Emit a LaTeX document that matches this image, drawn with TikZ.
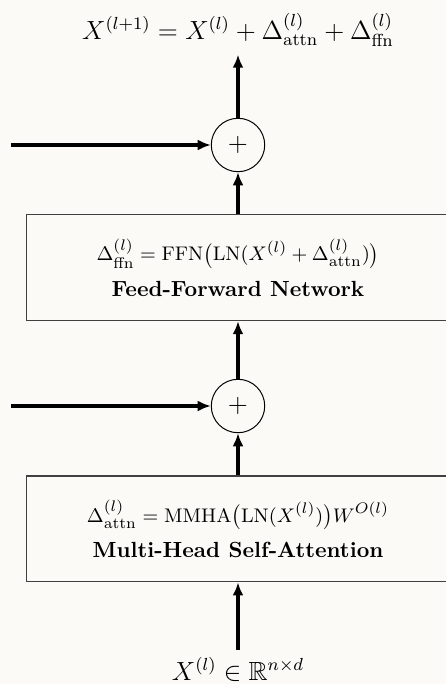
\documentclass[tikz,border=0pt]{standalone}
\usepackage{amsmath,amssymb}
\usetikzlibrary{arrows.meta}
\definecolor{paper}{RGB}{251,250,246}
\newcommand{\eqsize}{\fontsize{9.5}{11.5}\selectfont}
\begin{document}
\begin{tikzpicture}[x=0.4566pt, y=-0.4566pt,
  flow/.style={line width=1.5pt, -{Latex[length=6pt,width=5pt]}},
  layerbox/.style={draw=black!75, line width=0.6pt, minimum width=193pt,
    minimum height=48.3pt, align=center, inner sep=0pt},
  sumnode/.style={circle, draw, line width=0.45pt, minimum size=24.4pt,
    inner sep=0pt, font=\large},
  eqlabel/.style={font=\large, anchor=base}]

% page with paper background
\path[use as bounding box, fill=paper] (0,0) rectangle (446,684);

% residual stream, bottom to top
\node[eqlabel] (in) at (238,680) {$X^{(l)} \in \mathbb{R}^{n\times d}$};
\node[layerbox] (attn) at (238,528.8)
  {{\eqsize$\Delta^{(l)}_{\mathrm{attn}} = \mathrm{MMHA}\big(\mathrm{LN}(X^{(l)})\big)W^{O(l)}$}\\[4pt]
   \textbf{Multi-Head Self-Attention}};
\node[sumnode] (s1) at (238,406) {$+$};
\node[layerbox] (ffn) at (238,267.5)
  {{\eqsize$\Delta^{(l)}_{\mathrm{ffn}} = \mathrm{FFN}\big(\mathrm{LN}(X^{(l)} + \Delta^{(l)}_{\mathrm{attn}})\big)$}\\[4pt]
   \textbf{Feed-Forward Network}};
\node[sumnode] (s2) at (238,145) {$+$};
\node[eqlabel] (out) at (238,39.5)
  {$X^{(l+1)} = X^{(l)} + \Delta^{(l)}_{\mathrm{attn}} + \Delta^{(l)}_{\mathrm{ffn}}$};

% skip connections enter from the left
\coordinate (r1) at (11,406);
\coordinate (r2) at (11,145);

\draw[flow] (in.north) -- (attn.south);
\draw[flow] (attn.north) -- (s1.south);
\draw[flow] (r1) -- (s1.west);
\draw[flow] (s1.north) -- (ffn.south);
\draw[flow] (ffn.north) -- (s2.south);
\draw[flow] (r2) -- (s2.west);
\draw[flow] (s2.north) -- (out.south);
\end{tikzpicture}
\end{document}
